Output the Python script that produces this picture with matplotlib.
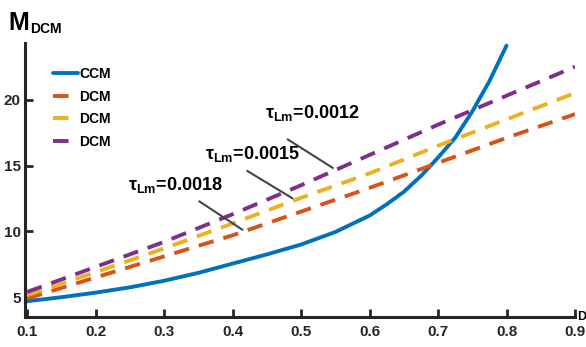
import matplotlib.pyplot as plt
import numpy as np

# values
d_ccm = [0.1, 0.15, 0.2, 0.25, 0.3, 0.35, 0.4, 0.45, 0.5, 0.55, 0.6,
         0.625, 0.65, 0.675, 0.7, 0.725, 0.75, 0.775, 0.8]
m_ccm = [4.7, 5.0, 5.35, 5.75, 6.25, 6.85, 7.55, 8.25, 9.0, 9.95, 11.2,
         12.05, 13.0, 14.2, 15.6, 17.1, 19.1, 21.4, 24.1]

d_dcm = [0.1, 0.2, 0.3, 0.4, 0.5, 0.6, 0.7, 0.8, 0.9]
m_dcm_0018 = [4.9, 6.5, 8.1, 9.7, 11.5, 13.3, 15.2, 17.1, 18.9]
m_dcm_0015 = [5.15, 6.9, 8.7, 10.6, 12.55, 14.4, 16.5, 18.5, 20.5]
m_dcm_0012 = [5.4, 7.3, 9.2, 11.3, 13.5, 15.8, 18.1, 20.3, 22.5]

xticks = [0.1, 0.2, 0.3, 0.4, 0.5, 0.6, 0.7, 0.8, 0.9]
yticks = [5, 10, 15, 20]

font = ['Liberation Sans Narrow', 'Liberation Sans', 'DejaVu Sans']
plt.rcParams['font.family'] = font
plt.rcParams['font.weight'] = 'bold'
plt.rcParams['mathtext.fontset'] = 'custom'
plt.rcParams['mathtext.rm'] = 'Liberation Sans:bold'
plt.rcParams['mathtext.it'] = 'Liberation Sans:bold'
plt.rcParams['mathtext.bf'] = 'Liberation Sans:bold'

blue = '#0072BD'
orange = '#D95319'
yellow = '#EDB120'
purple = '#7E2F8E'
axcol = '#262626'

W, H = 586, 347
fig = plt.figure(figsize=(W / 100, H / 100), dpi=100)
ax = fig.add_axes([25 / W, 1 - 317 / H, 550 / W, 274 / H])

dash = (4.0, 2.6)
ax.plot(d_ccm, m_ccm, color=blue, lw=2.8, label='CCM', solid_capstyle='round')
ax.plot(d_dcm, m_dcm_0018, color=orange, lw=2.8, dashes=dash, label='DCM')
ax.plot(d_dcm, m_dcm_0015, color=yellow, lw=2.8, dashes=dash, label='DCM')
ax.plot(d_dcm, m_dcm_0012, color=purple, lw=2.8, dashes=dash, label='DCM')

ax.set_xlim(0.097, 0.9)
ax.set_ylim(3.5, 24.3)
ax.set_xticks(xticks)
ax.set_xticklabels([f'{t:.1f}' for t in xticks])
ax.set_yticks(yticks)
ax.set_yticklabels([str(t) for t in yticks])
ax.tick_params(direction='in', length=6, width=2, colors=axcol, labelsize=11)
ax.tick_params(axis='x', pad=6)
ax.tick_params(axis='y', pad=3)
for s in ['top', 'right']:
    ax.spines[s].set_visible(False)
for s in ['left', 'bottom']:
    ax.spines[s].set_linewidth(2.2)
    ax.spines[s].set_color(axcol)

leg = ax.legend(loc='upper left', bbox_to_anchor=(53 / W, 1 - 67 / H),
                bbox_transform=fig.transFigure, frameon=False, fontsize=10,
                handlelength=1.8, handletextpad=0.1, labelspacing=0.62,
                borderpad=0, borderaxespad=0)
for t in leg.get_texts():
    t.set_fontweight('bold')

# annotations with leader lines
notes = [
    ('0.0012', (0.447, 19.0), (0.477, 17.1), (0.55, 14.7)),
    ('0.0015', (0.36, 15.9), (0.418, 14.7), (0.491, 12.4)),
    ('0.0018', (0.247, 13.5), (0.348, 12.4), (0.418, 10.0)),
]
for val, txy, start, end in notes:
    ax.annotate('', xy=end, xytext=start,
                arrowprops=dict(arrowstyle='-', color='#444444', lw=1.5))
    ax.text(txy[0], txy[1], r'$\mathregular{\tau_{Lm}}$' + '=' + val,
            fontsize=13, fontweight='bold', ha='left', va='center')

# axis labels
fig.text(8 / W, 1 - 30 / H, 'M', fontsize=18, fontweight='bold', ha='left', va='baseline')
fig.text(30 / W, 1 - 33 / H, 'DCM', fontsize=10, fontweight='bold', ha='left', va='baseline')
fig.text(577 / W, 1 - 320 / H, 'D', fontsize=9, fontweight='bold', ha='left', va='baseline')

fig.savefig('out.png', dpi=100)
